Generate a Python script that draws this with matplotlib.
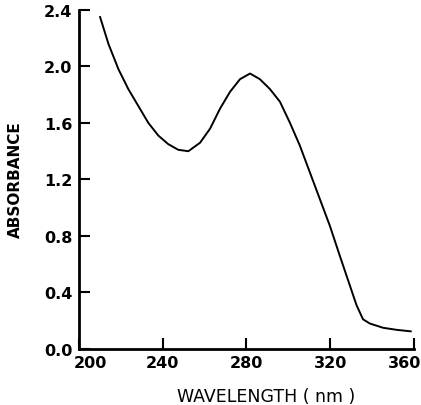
import numpy as np
import matplotlib.pyplot as plt
from matplotlib.transforms import ScaledTranslation

# values
wavelength = [210.0, 214.0, 218.8, 223.5, 228.3, 233.1, 237.9, 242.6, 247.4, 252.2,
              257.8, 262.6, 267.3, 272.1, 276.9, 281.7, 286.4, 291.2, 296.0, 300.8,
              305.5, 310.3, 315.1, 319.9, 324.6, 329.4, 332.6, 335.7, 339.0, 345.3,
              352.0, 358.5]
absorbance = [2.35, 2.16, 1.98, 1.84, 1.72, 1.60, 1.51, 1.45, 1.41, 1.40,
              1.46, 1.56, 1.70, 1.82, 1.91, 1.95, 1.91, 1.84, 1.75, 1.60,
              1.44, 1.25, 1.06, 0.87, 0.66, 0.45, 0.31, 0.21, 0.18, 0.15,
              0.135, 0.125]

xticks = [200, 240, 280, 320, 360]
yticks = [0.0, 0.4, 0.8, 1.2, 1.6, 2.0, 2.4]

fig = plt.figure(figsize=(4.21, 4.06), dpi=100)
ax = fig.add_axes([0.188, 0.138, 0.795, 0.835])

ax.plot(wavelength, absorbance, color='black', lw=1.4)

ax.set_xlim(200, 360)
ax.set_ylim(0, 2.4)
ax.set_xticks(xticks)
ax.set_yticks(yticks)
ax.set_yticklabels(['%.1f' % v for v in yticks])
ax.tick_params(direction='in', length=8, width=1.5, labelsize=11.5)
ax.tick_params(axis='y', pad=5)
ax.tick_params(axis='x', pad=4)
for lab in ax.get_xticklabels() + ax.get_yticklabels():
    lab.set_fontweight('bold')

# the end labels sit a little inside the end ticks in the original
xl = ax.get_xticklabels()
xl[0].set_transform(xl[0].get_transform() + ScaledTranslation(0.11, 0, fig.dpi_scale_trans))
xl[-1].set_transform(xl[-1].get_transform() + ScaledTranslation(-0.09, 0, fig.dpi_scale_trans))

for s in ['top', 'right']:
    ax.spines[s].set_visible(False)
for s in ['left', 'bottom']:
    ax.spines[s].set_linewidth(2)

fig.text(266 / 421, 1 - 397 / 406, 'WAVELENGTH ( nm )', fontsize=12.5,
         ha='center', va='center')
fig.text(15 / 421, 1 - 180 / 406, 'ABSORBANCE', fontsize=11, fontweight='bold',
         rotation=90, ha='center', va='center')

plt.savefig('out.png', dpi=100)
